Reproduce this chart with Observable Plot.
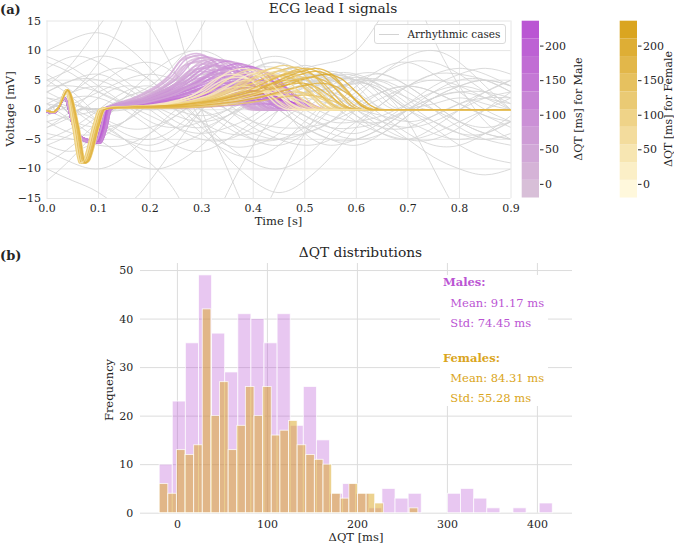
<!DOCTYPE html>
<html><head><meta charset="utf-8">
<script src="https://cdn.jsdelivr.net/npm/d3@7"></script>
<script src="https://cdn.jsdelivr.net/npm/@observablehq/plot@0.6"></script>
<style>
body{margin:0;background:#fff;}
#fig{position:relative;width:674px;height:543px;font-family:"DejaVu Serif",serif;color:#262626;overflow:hidden;background:#fff}
.abs{position:absolute;white-space:nowrap;line-height:1}
#fig svg{position:absolute}
</style></head><body><div id="fig"></div><script>
// ---------- DATA ----------
const timeTicks = [0,0.1,0.2,0.3,0.4,0.5,0.6,0.7,0.8,0.9];
const voltTicks = [-15,-10,-5,0,5,10,15];
const greyT = [0,0.05,0.1,0.15,0.2,0.25,0.3,0.35,0.4,0.45,0.5,0.55,0.6,0.65,0.7,0.75,0.8,0.85,0.9];
const greyCurves = [
 [5,7,9,8,5,2,0,-2,-4,-5,-4,-2,1,3,4,3,1,-1,-2],
 [-6,-7,-5,-2,2,5,6,5,3,0,-3,-5,-6,-4,-1,2,4,5,4],
 [2,0,-3,-5,-6,-4,0,4,7,8,6,3,0,-2,-3,-2,0,2,3],
 [8,6,3,1,0,1,3,4,3,1,-1,-3,-4,-2,1,4,6,7,6],
 [-3,-1,2,4,3,0,-4,-7,-8,-6,-2,2,5,6,4,1,-2,-4,-5],
 [0,3,6,7,5,1,-3,-6,-6,-4,0,3,5,5,3,0,-3,-5,-6],
 [-9,-6,-2,1,3,3,2,0,-2,-3,-3,-2,0,2,4,5,4,2,0],
 [4,4,3,1,-1,-3,-4,-3,-1,2,4,6,6,4,1,-2,-4,-4,-2],
 [-12,-8,-3,2,6,9,10,8,4,0,-3,-5,-5,-3,0,3,5,5,3],
 [6,3,-1,-4,-5,-3,1,5,8,9,7,3,-1,-4,-5,-3,0,3,5],
 [-4,-5,-6,-6,-4,-1,2,4,4,2,0,-2,-2,-1,1,3,4,3,1],
 [1,-2,-5,-8,-10,-9,-6,-2,2,5,6,5,3,0,-2,-4,-5,-4,-2],
 [10,12,13,11,7,2,-2,-4,-4,-2,1,4,6,6,4,1,-2,-4,-5],
 [-1,1,3,5,6,5,3,0,-3,-5,-6,-5,-2,1,4,6,7,6,4],
 [3,5,5,3,0,-3,-5,-5,-3,0,3,5,5,3,0,-3,-6,-8,-9],
 [-7,-9,-10,-8,-4,0,3,5,5,3,1,-1,-2,-2,0,2,3,3,2],
 [2,1,-1,-3,-3,-1,2,5,7,7,5,2,-1,-3,-3,-1,1,2,2],
 [5,2,-2,-5,-7,-6,-4,-1,1,2,2,1,0,-1,-2,-1,1,3,5],
 [-5,-3,0,3,4,2,-2,-6,-9,-10,-8,-4,0,3,4,3,1,-1,-3],
 [7,9,8,5,2,0,-1,0,2,4,5,4,2,-1,-4,-6,-6,-4,-1],
 [0,-2,-3,-2,1,4,6,6,4,1,-2,-4,-5,-4,-1,2,4,5,4],
 [4,8,14,18,14,6,-2,-8,-12,-14,-12,-8,-3,1,4,6,6,5,3],
 [-10,-12,-14,-16,-12,-6,0,4,6,6,4,1,-2,-4,-5,-4,-2,0,2],
 [1,3,4,3,1,-1,-2,-1,1,3,5,6,5,3,0,-2,-4,-5,-4],
 [-2,-4,-4,-2,1,3,3,1,-2,-4,-4,-2,2,6,9,10,8,4,0],
 [3,1,0,0,2,5,7,7,5,2,-1,-3,-3,-2,0,1,2,1,0],
 [-6,-4,-1,2,3,2,0,-3,-5,-5,-3,0,3,6,8,8,6,3,0],
 [0,2,2,0,-3,-6,-7,-5,-2,1,3,3,1,-2,-5,-8,-10,-11,-10],
 [9,7,4,1,-2,-3,-2,0,3,5,5,3,0,-3,-5,-5,-3,0,3],
 [-3,0,4,7,8,6,2,-2,-5,-6,-4,0,4,7,8,6,3,0,-2],
 [0,3,8,16,25,15,0,-10,-18,-12,-4,2,5,4,2,0,-2,-3,-2],
 [-2,-1,0,2,4,8,14,20,12,2,-4,-6,-5,-3,0,2,3,2,1],
 [1,0,-2,-5,-9,-14,-20,-14,-6,0,4,6,5,3,-2,-10,-18,-22,-15],
 [3,5,6,4,1,-2,-3,-1,2,5,7,8,10,16,20,12,4,-2,-5]
];
const greyBeatTPeak = [0.44,0.47,0.50,0.52,0.55,0.57,0.58,0.60,0.61,0.63];
const greyBeatTAmp  = [8.0,7.0,7.5,6.0,6.5,5.5,6.0,5.5,4.5,5.0];
// QRS templates: [time, voltage, shift factor]
const greyQRS   = [[0,0,0],[0.025,0.7,0],[0.045,-0.6,0],[0.07,0.2,0],[0.1,0.1,0],[0.115,0.3,0]];
const maleQRS   = [[0,-0.3,0],[0.012,-0.6,0],[0.022,0.2,0],[0.034,2.0,0],[0.05,-2.5,0],[0.062,-4.6,0.3],[0.07,-5.2,1],[0.088,-5.6,1],[0.1,-3,1],[0.108,0,1],[0.116,0.4,1]];
const femaleQRS = [[0,-0.2,0],[0.012,-0.4,0],[0.022,0.3,0],[0.036,3.3,0.4],[0.05,-3,1],[0.063,-9,1],[0.07,-8.6,1],[0.09,-2.5,1],[0.1,0,1],[0.112,0.3,1]];
const maleTPeak = [0.29,0.295,0.30,0.31,0.32,0.33,0.34,0.35,0.36,0.37,0.38,0.39,0.40,0.41,0.30,0.31,0.32,0.33,0.34,0.35,0.36,0.37,0.38,0.39,0.40,0.42,0.43,0.44,0.29,0.30,0.31,0.33,0.35,0.37,0.39,0.41,0.34,0.38,0.42,
  0.285,0.30,0.31,0.32,0.33,0.34,0.35,0.36,0.37,0.38,0.39,0.40,0.41,0.42,0.43,0.36,0.33,0.31];
const maleTAmp  = [9.5,9.2,8.8,8.9,8.6,8.5,8.4,8.2,8.0,7.8,7.6,7.3,7.0,6.5,7.0,6.0,5.0,4.0,3.0,2.0,6.5,5.5,4.5,3.5,2.5,5.0,4.0,3.0,8.0,6.5,5.5,7.5,7.0,6.0,5.0,4.5,1.2,1.5,1.0,
  9.0,8.3,7.8,7.5,6.8,6.2,5.8,5.2,4.8,4.2,3.8,3.2,2.8,2.2,1.8,7.2,6.0,4.5];
const maleDQT   = [40,60,30,80,20,100,60,120,10,140,70,160,90,180,50,0,25,45,65,35,110,85,130,150,95,200,220,170,15,55,75,105,125,145,190,210,5,60,115,
  20,35,50,65,80,95,110,125,140,155,170,185,200,215,230,100,70,40];
const maleShift = [0,0.004,0.008,0.012,0.016,0.002,0.006,0.010,0.014,0.001,0.005,0.009,0.013,0.003,0.007,0.011,0.015,0,0.004,0.008,0.012,0.016,0.002,0.006,0.010,0.014,0.001,0.005,0.009,0.013,0.003,0.007,0.011,0.015,0,0.004,0.008,0.012,0.016,
  0.005,0.010,0.015,0.002,0.007,0.012,0.001,0.006,0.011,0.016,0.003,0.008,0.013,0.004,0.009,0.014,0,0.005];
const femaleTPeak = [0.38,0.40,0.42,0.44,0.46,0.48,0.50,0.52,0.54,0.37,0.39,0.41,0.43,0.45,0.47,0.49,0.40,0.42,0.44,0.46,0.48,0.50,0.36,0.38,0.45,0.47,0.51,0.53,0.43,0.49,0.39,0.52];
const femaleTAmp  = [7.0,6.8,6.5,7.0,7.5,7.2,7.0,6.5,6.0,5.5,5.0,4.5,4.0,5.8,5.0,4.5,3.5,3.0,2.5,3.5,3.0,2.5,6.0,4.0,6.5,6.0,5.5,4.5,6.0,6.5,6.2,7.0];
const femaleDQT   = [30,60,20,90,120,150,180,210,230,10,45,75,100,135,160,195,0,35,55,80,110,140,15,50,105,125,170,200,85,175,40,190];
const femaleShift = [0,0.003,0.006,0.009,0.012,0.002,0.005,0.008,0.011,0.004,0.007,0.010,0.001,0.004,0.007,0.010,0.012,0.002,0.005,0.008,0.011,0.003,0.006,0.009,0.012,0,0.004,0.007,0.006,0.009,0.002,0.011];
const cbDomain = [-19.7, 236];
const cbTicks = [0,50,100,150,200];
const maleColors = ["thistle","mediumorchid"];
const femaleColors = ["cornsilk","goldenrod"];

const histMaleStart = -19.7, histMaleWidth = 14.56;
const histMaleCounts = [10,23,35,49,37,29,41,40,35,41,18,26,15,4,6,4,1,5,3,4,0,0,4,5,3,1,0,1,0,2];
const histFemaleStart = -19.7, histFemaleWidth = 9.58;
const histFemaleCounts = [6,4,13,12,14,42,20,27,13,18,26,20,26,16,17,19,14,12,11,10,4,3,6,4,4,2,0,0,0,1];
const dqtTicks = [0,100,200,300,400];
const freqTicks = [0,10,20,30,40,50];
const maleStats = ["Males:","Mean: 91.17 ms","Std: 74.45 ms"];
const femaleStats = ["Females:","Mean: 84.31 ms","Std: 55.28 ms"];

// ---------- BUILD ----------
const fig = document.getElementById("fig");
const fmt = d3.format("d");
const style = {fontFamily:"DejaVu Serif", fontSize:"11px", color:"#262626", background:"transparent", overflow:"visible"};

function beat(qrs, s, tp, A, rise) {
  const pts = qrs.map(([t, v, k]) => [t + k * s, v]);
  const t0 = pts[pts.length - 1][0];
  const d = tp - t0;
  pts.push([t0 + 0.35*d, rise[0]*A], [t0 + 0.7*d, rise[1]*A], [tp - 0.025, 0.93*A], [tp, A],
           [tp + 0.03, 0.88*A], [tp + 0.06, 0.5*A], [tp + 0.09, 0.1*A], [tp + 0.11, 0], [0.9, 0]);
  return pts;
}
function bandColor(colors, v) {
  const i = Math.max(0, Math.min(9, Math.floor((v - cbDomain[0]) / (cbDomain[1] - cbDomain[0]) * 10)));
  return d3.interpolateRgb(colors[0], colors[1])(i / 9);
}

const greyData = [];
greyCurves.forEach((c, j) => c.forEach((v, i) => greyData.push({id: j, t: greyT[i], v})));
const greyBeats = [];
greyBeatTPeak.forEach((tp, j) => beat(greyQRS, 0, tp, greyBeatTAmp[j], [0.15, 0.5]).forEach(([t, v]) => greyBeats.push({id: j, t, v})));
const maleData = [];
maleTPeak.forEach((tp, j) => {
  const c = bandColor(maleColors, maleDQT[j]);
  beat(maleQRS, maleShift[j], tp, maleTAmp[j], [0.25, 0.62]).forEach(([t, v]) => maleData.push({id: j, t, v, c}));
});
const femaleData = [];
femaleTPeak.forEach((tp, j) => {
  const c = bandColor(femaleColors, femaleDQT[j]);
  beat(femaleQRS, femaleShift[j], tp, femaleTAmp[j], [0.12, 0.45]).forEach(([t, v]) => femaleData.push({id: j, t, v, c}));
});

const ecg = Plot.plot({
  width: 515, height: 215, marginLeft: 46.5, marginRight: 4.5, marginTop: 20.5, marginBottom: 17,
  style,
  x: {domain: [0, 0.9]}, y: {domain: [-15, 15]},
  marks: [
    Plot.gridX(timeTicks, {stroke: "#e6e6e6", strokeOpacity: 1}),
    Plot.gridY(voltTicks, {stroke: "#e6e6e6", strokeOpacity: 1}),
    Plot.line(greyData, {x: "t", y: "v", z: "id", stroke: "#d3d3d3", strokeOpacity: 0.85, strokeWidth: 1, curve: "natural", clip: true}),
    Plot.line(greyBeats, {x: "t", y: "v", z: "id", stroke: "#d3d3d3", strokeOpacity: 0.85, strokeWidth: 1, curve: "monotone-x", clip: true}),
    Plot.line(maleData, {x: "t", y: "v", z: "id", stroke: "c", strokeOpacity: 0.75, strokeWidth: 1.6, curve: "monotone-x", clip: true}),
    Plot.line(femaleData, {x: "t", y: "v", z: "id", stroke: "c", strokeOpacity: 0.8, strokeWidth: 1.4, curve: "monotone-x", clip: true}),
    Plot.axisX(timeTicks, {tickSize: 0, tickPadding: 5.5, tickFormat: d3.format(".1f"), label: null}),
    Plot.axisY(voltTicks, {tickSize: 0, tickPadding: 6, tickFormat: fmt, label: null})
  ]
});
ecg.style.left = "0px"; ecg.style.top = "0px";
fig.appendChild(ecg);

function colorbar(colors, left) {
  const bands = d3.range(10).map(i => {
    const w = (cbDomain[1] - cbDomain[0]) / 10;
    return {y1: cbDomain[0] + i*w, y2: cbDomain[0] + (i+1)*w, v: cbDomain[0] + (i+0.5)*w};
  });
  const cb = Plot.plot({
    width: 60, height: 215, marginLeft: 6.7, marginRight: 36, marginTop: 20.7, marginBottom: 17.5,
    style,
    x: {domain: [0, 1], axis: null}, y: {domain: cbDomain},
    marks: [
      Plot.rect(bands, {x1: 0, x2: 1, y1: "y1", y2: "y2", fill: d => bandColor(colors, d.v), inset: 0}),
      Plot.axisY(cbTicks, {anchor: "right", tickSize: 3.5, tickPadding: 2, tickFormat: fmt, label: null})
    ]
  });
  cb.style.left = left + "px"; cb.style.top = "0px";
  fig.appendChild(cb);
}
colorbar(maleColors, 515);
colorbar(femaleColors, 612.6);

const maleBins = histMaleCounts.map((c, i) => ({x1: histMaleStart + i*histMaleWidth, x2: histMaleStart + (i+1)*histMaleWidth, c})).filter(d => d.c > 0);
const femaleBins = histFemaleCounts.map((c, i) => ({x1: histFemaleStart + i*histFemaleWidth, x2: histFemaleStart + (i+1)*histFemaleWidth, c})).filter(d => d.c > 0);

const hist = Plot.plot({
  width: 674, height: 313, marginLeft: 140, marginRight: 102, marginTop: 33, marginBottom: 30.3,
  style,
  x: {domain: [-41, 439]}, y: {domain: [0, 51.45]},
  marks: [
    Plot.gridX(dqtTicks, {stroke: "#dcdcdc", strokeOpacity: 1}),
    Plot.gridY(freqTicks, {stroke: "#dcdcdc", strokeOpacity: 1}),
    Plot.rect(maleBins, {x1: "x1", x2: "x2", y1: 0, y2: "c", fill: "mediumorchid", fillOpacity: 0.33, stroke: "white", strokeWidth: 0.9, strokeOpacity: 0.8}),
    Plot.rect(femaleBins, {x1: "x1", x2: "x2", y1: 0, y2: "c", fill: "goldenrod", fillOpacity: 0.5, stroke: "white", strokeWidth: 0.9, strokeOpacity: 0.8}),
    Plot.axisX(dqtTicks, {tickSize: 0, tickPadding: 6.5, tickFormat: fmt, label: null}),
    Plot.axisY(freqTicks, {tickSize: 0, tickPadding: 7.3, tickFormat: fmt, label: null})
  ]
});
hist.style.left = "0px"; hist.style.top = "230px";
fig.appendChild(hist);

// ---------- TEXT ----------
function text(str, x, y, o = {}) {
  const d = document.createElement("div");
  d.className = "abs";
  d.textContent = str;
  d.style.left = x + "px"; d.style.top = y + "px";
  d.style.fontSize = (o.size || 11.5) + "px";
  if (o.bold) d.style.fontWeight = "bold";
  if (o.color) d.style.color = o.color;
  let tr = o.center ? "translate(-50%,-50%)" : "translate(0,-50%)";
  if (o.rotate) tr += " rotate(-90deg)";
  d.style.transform = tr;
  fig.appendChild(d);
  return d;
}
text("(a)", 0, 9, {size: 13, bold: true});
text("ECG lead I signals", 333, 9, {size: 13.75, center: true});
text("Voltage [mV]", 10.5, 109, {center: true, rotate: true});
text("Time [s]", 278.5, 222, {center: true});
text("ΔQT [ms] for Male", 578, 109, {size: 11, center: true, rotate: true});
text("ΔQT [ms] for Female", 668, 109, {size: 11, center: true, rotate: true});
text("(b)", 0, 255, {size: 13, bold: true});
text("ΔQT distributions", 360.5, 253, {size: 13.75, center: true});
text("Frequency", 109.5, 390, {center: true, rotate: true});
text("ΔQT [ms]", 356, 537.5, {center: true});

// legend
const lg = document.createElement("div");
lg.className = "abs";
Object.assign(lg.style, {left: "374px", top: "24px", width: "132px", height: "20px", border: "1px solid #dadada", borderRadius: "3px", background: "rgba(255,255,255,0.85)", boxSizing: "border-box"});
fig.appendChild(lg);
const ln = document.createElement("div");
ln.className = "abs";
Object.assign(ln.style, {left: "379px", top: "33.5px", width: "20px", height: "0", borderTop: "1.5px solid #d3d3d3"});
fig.appendChild(ln);
text("Arrhythmic cases", 407.5, 34.3, {size: 10.5});

// stats box
const bx = document.createElement("div");
bx.className = "abs";
Object.assign(bx.style, {left: "440px", top: "275px", width: "108px", height: "131px", background: "white"});
fig.appendChild(bx);
const mc = "#bb55d3", fc = "#daa520";
text(maleStats[0], 443, 283, {bold: true, color: mc});
text(maleStats[1], 450.3, 304, {color: mc});
text(maleStats[2], 450.3, 324, {color: mc});
text(femaleStats[0], 443, 358.7, {bold: true, color: fc});
text(femaleStats[1], 450.3, 379.3, {color: fc});
text(femaleStats[2], 450.3, 398.7, {color: fc});
</script></body></html>
